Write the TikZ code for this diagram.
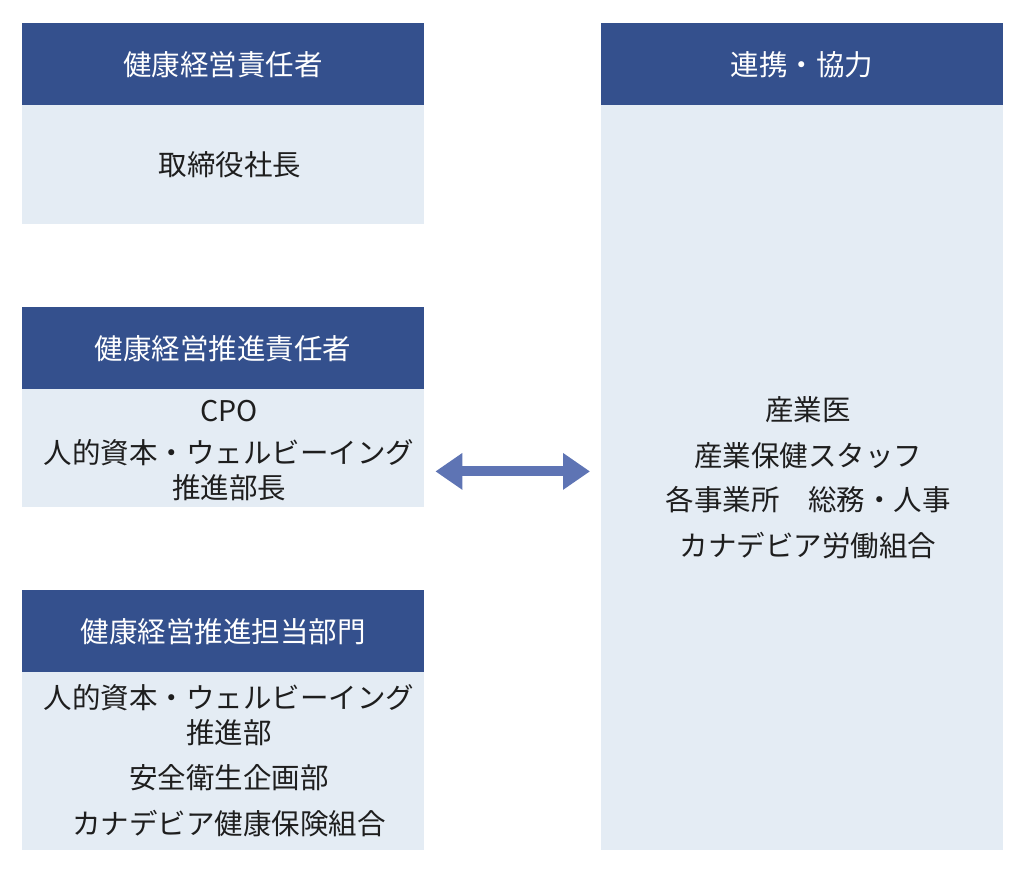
\documentclass[tikz,border=0pt]{standalone}
\usepackage{fontspec}
\setmainfont{Noto Sans CJK JP}
\usetikzlibrary{arrows.meta,calc}
\definecolor{headblue}{RGB}{52,80,141}
\definecolor{bodyblue}{RGB}{228,236,244}
\definecolor{arrowblue}{RGB}{94,116,180}
\definecolor{txt}{RGB}{30,30,30}
\tikzset{
  head/.style={fill=headblue, draw=none, inner sep=0pt, anchor=north west, minimum width=402pt, minimum height=82pt},
  bodybox/.style={fill=bodyblue, draw=none, inner sep=0pt, anchor=north west, minimum width=402pt},
  headtext/.style={text=white, font=\fontsize{28.5}{32}\selectfont, inner sep=0pt},
  bodytext/.style={text=txt, font=\fontsize{28.5}{32}\selectfont, inner sep=0pt},
  dblarrow/.style={draw=arrowblue, line width=10pt, {Triangle[length=27pt,width=35pt]}-{Triangle[length=27pt,width=35pt]}}
}
\begin{document}
\begin{tikzpicture}[x=1pt,y=-1pt]
\useasboundingbox (0,0) rectangle (1028,886);
% left column
\node[head] (h1) at (22,23) {};
\node[bodybox, minimum height=119pt] (b1) at (22,105) {};
\node[head] (h2) at (22,307) {};
\node[bodybox, minimum height=118pt] (b2) at (22,389) {};
\node[head] (h3) at (22,590) {};
\node[bodybox, minimum height=178pt] (b3) at (22,672) {};
% right column
\node[head] (h4) at (601,23) {};
\node[bodybox, minimum height=745pt] (b4) at (601,105) {};
% header texts
\node[headtext] (t1) at (223,65) {健康経営責任者};
\node[headtext] (t2) at (223,349) {健康経営推進責任者};
\node[headtext] (t3) at (223,632) {健康経営推進担当部門};
\node[headtext] (t4) at (802,65) {連携・協力};
% body texts
\node[bodytext] (s1) at (230,165) {取締役社長};
\node[bodytext] (s2a) at (229,411) {CPO};
\node[bodytext] (s2b) at (229,453) {人的資本・ウェルビーイング};
\node[bodytext] (s2c) at (229,488) {推進部長};
\node[bodytext] (s3a) at (229,698) {人的資本・ウェルビーイング};
\node[bodytext] (s3b) at (229,733) {推進部};
\node[bodytext] (s3c) at (229,778) {安全衛生企画部};
\node[bodytext] (s3d) at (229,824) {カナデビア健康保険組合};
\node[bodytext] (r1) at (808,410) {産業医};
\node[bodytext] (r2) at (808,456) {産業保健スタッフ};
\node[bodytext] (r3) at (808,500) {各事業所\quad 総務・人事};
\node[bodytext] (r4) at (808,546) {カナデビア労働組合};
% arrow
\coordinate (al) at ($(b2.south east)+(11,-36)$);
\draw[dblarrow, shorten >=11pt] (al) -- (b4.west |- al);
\end{tikzpicture}
\end{document}
